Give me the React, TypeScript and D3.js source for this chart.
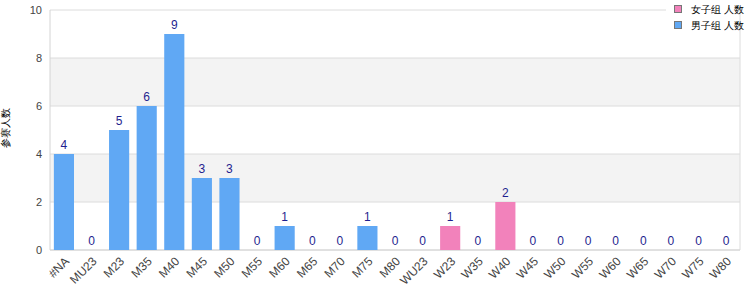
import React from "react";
import * as d3 from "d3";

const categories = ["#NA","MU23","M23","M35","M40","M45","M50","M55","M60","M65","M70","M75","M80","WU23","W23","W35","W40","W45","W50","W55","W60","W65","W70","W75","W80"];
const menValues = [4,0,5,6,9,3,3,0,1,0,0,1,0,0,null,null,null,null,null,null,null,null,null,null,null];
const womenValues = [null,null,null,null,null,null,null,null,null,null,null,null,null,null,1,0,2,0,0,0,0,0,0,0,0];
const yTicks = [0,2,4,6,8,10];
const legendLabels = ["女子组 人数","男子组 人数"];
const yTitle = "参赛人数";

const W = 750, H = 300;
const margin = { left: 50, right: 10, top: 10, bottom: 50 };
const blue = "#60a8f4";
const pink = "#f282bb";
const font = "Liberation Sans, Arial, sans-serif";

export default function App() {
  const x = d3.scaleBand<string>().domain(categories).range([margin.left, W - margin.right]).paddingInner(0.27).paddingOuter(0.14);
  const y = d3.scaleLinear().domain([0, 10]).range([H - margin.bottom, margin.top]);
  const bars = categories.map((c, i) => {
    const m = menValues[i];
    const w = womenValues[i];
    return { c, v: (m ?? w) as number, color: m != null ? blue : pink };
  });
  return (
    <svg width={W} height={H} style={{ position: "absolute", left: 0, top: 0 }} fontFamily={font}>
      <rect x={0} y={0} width={W} height={H} fill="#fff" />
      {yTicks.slice(0, -1).map((t, i) => i % 2 === 1 ? (
        <rect key={"b" + t} x={margin.left} y={y(t + 2)} width={W - margin.right - margin.left} height={y(t) - y(t + 2)} fill="#f3f3f3" />
      ) : null)}
      {yTicks.map(t => (
        <line key={"g" + t} x1={margin.left} x2={W - margin.right} y1={y(t)} y2={y(t)} stroke="#dcdcdc" />
      ))}
      <line x1={margin.left} x2={margin.left} y1={margin.top} y2={y(0)} stroke="#d4d4d4" />
      <line x1={W - margin.right} x2={W - margin.right} y1={margin.top} y2={y(0)} stroke="#dcdcdc" />
      <line x1={margin.left} x2={W - margin.right} y1={y(0)} y2={y(0)} stroke="#d4d4d4" />
      {yTicks.map(t => (
        <text key={"t" + t} x={42} y={y(t)} dy="0.35em" textAnchor="end" fontSize={11} fill="#444">{t}</text>
      ))}
      {bars.map(b => (
        <g key={b.c}>
          {b.v > 0 && <rect x={x(b.c)} y={y(b.v)} width={x.bandwidth()} height={y(0) - y(b.v)} fill={b.color} />}
          <text x={(x(b.c) as number) + x.bandwidth() / 2} y={y(b.v) - 5} textAnchor="middle" fontSize={12} fill="#1f1f8f">{b.v}</text>
          <text transform={`translate(${(x(b.c) as number) + x.bandwidth() / 2 + 3},${y(0) + 9}) rotate(-45)`} textAnchor="end" dy="0.35em" fontSize={12} fill="#444">{b.c}</text>
        </g>
      ))}
      <rect x={666} y={0} width={70} height={32} fill="#fff" />
      {legendLabels.map((l, i) => (
        <g key={l}>
          <rect x={674.5} y={5.5 + i * 16} width={7} height={7} fill={i === 0 ? pink : blue} stroke="#777" />
          <text x={691} y={12.5 + i * 16} fontSize={9.5} fill="#000">{l}</text>
        </g>
      ))}
      <text transform={`translate(9,128) rotate(-90)`} textAnchor="middle" fontSize={9.5} fill="#000">{yTitle}</text>
    </svg>
  );
}
